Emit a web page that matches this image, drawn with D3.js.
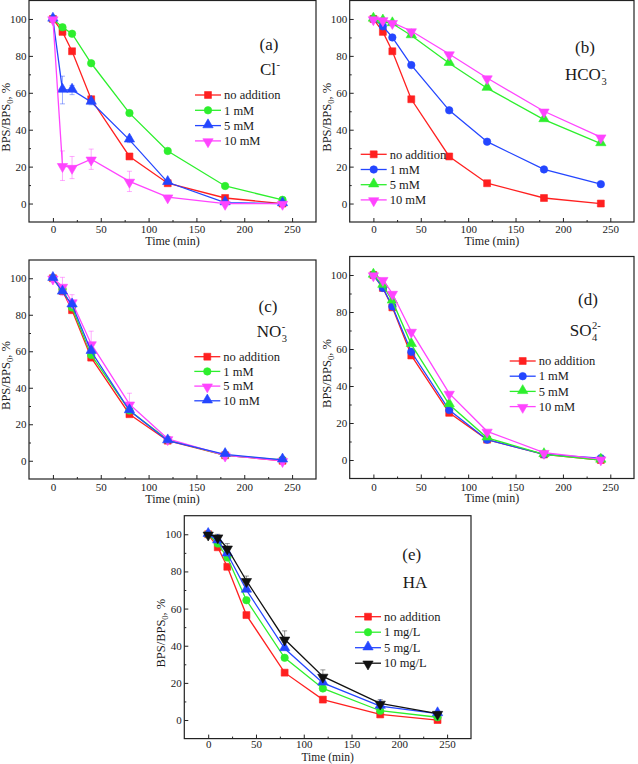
<!DOCTYPE html>
<html>
<head>
<meta charset="utf-8">
<script src="https://cdn.jsdelivr.net/npm/d3@7"></script>
<style>
  html, body { margin: 0; padding: 0; background: #fff; }
  svg { display: block; font-family: "Liberation Serif", serif; }
  svg text { font-family: "Liberation Serif", serif !important; fill: #1a1a1a; }
</style>
</head>
<body>
<svg id="chart" width="638" height="764"></svg>
<script>
// ---------------- DATA ----------------
const times = [0, 10, 20, 40, 80, 120, 180, 240];
const xTicks = [0, 50, 100, 150, 200, 250];
const yTicks = [0, 20, 40, 60, 80, 100];

const noAddition = [100, 93, 82.5, 56.5, 25.5, 11, 3, 0];

// (a) Cl-
const cl1mM  = [100, 95.5, 92, 76, 49, 28.5, 9.5, 2];
const cl5mM  = [100, 61.5, 61.5, 55, 34.5, 11.5, 0.5, 0];
const cl10mM = [100, 20.5, 19.5, 24, 12, 3.5, 0, 0];
const cl5mMErr  = [1, 7.5, 2.5, 1.5, 1.5, 1.5, 0.5, 0.5];
const cl10mMErr = [1, 8, 6, 5.5, 5.5, 1, 0.5, 0.5];

// (b) HCO3-
const hco1mM  = [100, 96, 90, 75, 50.5, 33.5, 18.5, 10.5];
const hco5mM  = [100, 99, 97.5, 91, 76, 62.5, 45.5, 32.5];
const hco10mM = [100, 99.5, 98, 93.5, 81, 68, 50, 36];

// (c) NO3-
const no1mM  = [100, 94, 84, 58, 27.5, 11.5, 3, 0.5];
const no5mM  = [100, 95.5, 87, 64, 31, 12, 3, 0];
const no10mM = [100, 92.5, 85.5, 60, 27.5, 11, 3.5, 0.5];
const no5mMErr = [1, 5, 4, 7, 6, 1.5, 0.5, 1.5];

// (d) SO4 2-
const so1mM  = [100, 93, 83, 58.5, 27, 11, 3, 1];
const so5mM  = [100, 94.5, 86, 62.5, 30, 12, 3, 0];
const so10mM = [100, 97.5, 90, 69.5, 36, 15.5, 4, 0.5];

// (e) HA
const ha1 = [100, 95, 87.5, 64.5, 33.5, 17, 5, 1.5];
const ha5 = [100, 96.5, 89.5, 70, 38.5, 20, 7.5, 3.5];
const ha10 = [100, 98.5, 92.5, 75, 43.5, 23.5, 9, 3.5];
const ha10Err = [1, 1.5, 2.5, 2.5, 4.5, 3.5, 2, 1];

const legendA = ["no addition", "1 mM", "5 mM", "10 mM"];
const legendC = ["no addition", "1 mM", "5 mM", "10 mM"];
const legendE = ["no addition", "1 mg/L", "5 mg/L", "10 mg/L"];

// ---------------- STYLE ----------------
const RED = "#ff2020", GREEN = "#2def2d", BLUE = "#2446ff", MAG = "#ff44ff", BLACK = "#111111";
const FONT = "Liberation Serif, serif";

const panels = [
  { L: 29, R: 316, T: 0.5, B: 222, tickDy: 11, titleDy: 22.5, titleSize: 12,
    tag: "(a)", tagX: 269, tagY: 50, chem: {base: "Cl", sub: null, sup: "-"}, chemX: 260, chemY: 75,
    legX: 195, legY: 95, legDy: 15.3,
    series: [
      {name: legendA[0], v: noAddition, c: RED, s: "square"},
      {name: legendA[1], v: cl1mM, c: GREEN, s: "circle"},
      {name: legendA[2], v: cl5mM, c: BLUE, s: "up", e: cl5mMErr},
      {name: legendA[3], v: cl10mM, c: MAG, s: "down", e: cl10mMErr}
    ]},
  { L: 349.7, R: 634, T: 0.5, B: 222, tickDy: 11, titleDy: 22.5, titleSize: 12,
    tag: "(b)", tagX: 585, tagY: 53, chem: {base: "HCO", sub: "3", sup: "-"}, chemX: 565, chemY: 80,
    legX: 360.7, legY: 154.3, legDy: 15.2,
    series: [
      {name: legendA[0], v: noAddition, c: RED, s: "square"},
      {name: legendA[1], v: hco1mM, c: BLUE, s: "circle"},
      {name: legendA[2], v: hco5mM, c: GREEN, s: "up"},
      {name: legendA[3], v: hco10mM, c: MAG, s: "down"}
    ]},
  { L: 29, R: 316, T: 260, B: 479, tickDy: 12, titleDy: 23.5, titleSize: 12,
    tag: "(c)", tagX: 268, tagY: 311.7, chem: {base: "NO", sub: "3", sup: "-"}, chemX: 256.7, chemY: 337,
    legX: 194.3, legY: 356.7, legDy: 14.7,
    series: [
      {name: legendC[0], v: noAddition, c: RED, s: "square"},
      {name: legendC[1], v: no1mM, c: GREEN, s: "circle"},
      {name: legendC[2], v: no5mM, c: MAG, s: "down", e: no5mMErr},
      {name: legendC[3], v: no10mM, c: BLUE, s: "up"}
    ]},
  { L: 349.7, R: 634, T: 256.5, B: 478.5, tickDy: 12, titleDy: 23.5, titleSize: 12,
    tag: "(d)", tagX: 588, tagY: 305, chem: {base: "SO", sub: "4", sup: "2-"}, chemX: 569.7, chemY: 336,
    legX: 509.7, legY: 361, legDy: 15.2,
    series: [
      {name: legendC[0], v: noAddition, c: RED, s: "square"},
      {name: legendC[1], v: so1mM, c: BLUE, s: "circle"},
      {name: legendC[2], v: so5mM, c: GREEN, s: "up"},
      {name: legendC[3], v: so10mM, c: MAG, s: "down"}
    ]},
  { L: 184.3, R: 471, T: 515.7, B: 738.6, tickDy: 9.8, titleDy: 22.8, titleSize: 11.5,
    tag: "(e)", tagX: 411.7, tagY: 560, chem: {base: "HA", sub: null, sup: null, anchor: "middle"}, chemX: 415, chemY: 588.3,
    legX: 355, legY: 616.7, legDy: 15.5,
    series: [
      {name: legendE[0], v: noAddition, c: RED, s: "square"},
      {name: legendE[1], v: ha1, c: GREEN, s: "circle"},
      {name: legendE[2], v: ha5, c: BLUE, s: "up"},
      {name: legendE[3], v: ha10, c: BLACK, s: "down", e: ha10Err}
    ]}
];

const svg = d3.select("#chart");

function symbolPath(shape) {
  if (shape === "square") return d3.symbol(d3.symbolSquare, 48)();
  if (shape === "circle") return d3.symbol(d3.symbolCircle, 44)();
  return d3.symbol(d3.symbolTriangle, 46)();
}

function drawMarker(g, x, y, shape, color) {
  const p = g.append("path")
    .attr("d", symbolPath(shape))
    .attr("fill", color)
    .attr("stroke", color)
    .attr("stroke-width", 0.6);
  if (shape === "down") p.attr("transform", `translate(${x},${y + 0.8}) rotate(180)`);
  else if (shape === "up") p.attr("transform", `translate(${x},${y - 0.8})`);
  else p.attr("transform", `translate(${x},${y})`);
}

function txt(g) {
  return g.append("text").attr("font-family", FONT).attr("fill", "#1a1a1a");
}

function chemLabel(g, x, y, chem, size) {
  const t = txt(g).attr("x", x).attr("y", y).attr("font-size", size).text(chem.base);
  if (chem.anchor) t.attr("text-anchor", chem.anchor);
  const w = t.node().getComputedTextLength();
  if (chem.sub) {
    txt(g).attr("x", x + w + 0.5).attr("y", y + size * 0.3)
      .attr("font-size", size * 0.62).text(chem.sub);
  }
  if (chem.sup) {
    txt(g).attr("x", x + w + 0.5).attr("y", y - size * 0.42)
      .attr("font-size", size * 0.62).text(chem.sup);
  }
}

panels.forEach(p => {
  const x = d3.scaleLinear().domain([-25, 275]).range([p.L, p.R]);
  const y = d3.scaleLinear().domain([-10, 110]).range([p.B, p.T]);
  const g = svg.append("g");

  // frame
  g.append("rect").attr("x", p.L).attr("y", p.T)
    .attr("width", p.R - p.L).attr("height", p.B - p.T)
    .attr("fill", "none").attr("stroke", "#222").attr("stroke-width", 1.2);

  // bottom axis (ticks inward)
  const xAxis = d3.axisBottom(x).tickValues(xTicks).tickSize(-4).tickPadding(0).tickFormat(d3.format("d"));
  const gx = g.append("g").attr("transform", `translate(0,${p.B})`).call(xAxis)
    .attr("font-family", FONT);
  gx.select(".domain").remove();
  gx.selectAll(".tick line").attr("stroke", "#222").attr("stroke-width", 1);
  gx.selectAll(".tick text").attr("font-size", 11).attr("fill", "#1a1a1a")
    .attr("font-family", FONT).attr("dy", null).attr("y", p.tickDy);
  const xMinor = d3.axisBottom(x).tickValues([25, 75, 125, 175, 225]).tickSize(-2).tickFormat("");
  const gxm = g.append("g").attr("transform", `translate(0,${p.B})`).call(xMinor);
  gxm.select(".domain").remove();
  gxm.selectAll(".tick line").attr("stroke", "#222");

  // left axis
  const yAxis = d3.axisLeft(y).tickValues(yTicks).tickSize(-4).tickPadding(3).tickFormat(d3.format("d"));
  const gy = g.append("g").attr("transform", `translate(${p.L},0)`).call(yAxis)
    .attr("font-family", FONT);
  gy.select(".domain").remove();
  gy.selectAll(".tick line").attr("stroke", "#222");
  gy.selectAll(".tick text").attr("font-size", 11).attr("fill", "#1a1a1a")
    .attr("font-family", FONT).attr("x", -2.5);
  const yMinor = d3.axisLeft(y).tickValues([10, 30, 50, 70, 90]).tickSize(-2).tickFormat("");
  const gym = g.append("g").attr("transform", `translate(${p.L},0)`).call(yMinor);
  gym.select(".domain").remove();
  gym.selectAll(".tick line").attr("stroke", "#222");

  // axis titles
  txt(g).attr("x", (p.L + p.R) / 2).attr("y", p.B + p.titleDy)
    .attr("text-anchor", "middle").attr("font-size", p.titleSize).text("Time (min)");
  const yt = txt(g)
    .attr("transform", `translate(${p.L - 19},${(p.T + p.B) / 2 + 6}) rotate(-90)`)
    .attr("text-anchor", "middle").attr("font-size", 12.5);
  yt.append("tspan").text("BPS/BPS");
  yt.append("tspan").attr("dy", 3).attr("font-size", 8.5).text("0");
  yt.append("tspan").attr("dy", -3).text(", %");

  // error bars
  const line = d3.line().x((d, i) => x(times[i])).y(d => y(d));
  p.series.forEach(s => {
    if (s.e) {
      const eg = g.append("g").attr("stroke", s.c).attr("stroke-opacity", 0.45).attr("stroke-width", 1);
      s.v.forEach((v, i) => {
        const cx = x(times[i]), y1 = y(v + s.e[i]), y2 = y(v - s.e[i]);
        eg.append("line").attr("x1", cx).attr("x2", cx).attr("y1", y1).attr("y2", y2);
        eg.append("line").attr("x1", cx - 2.5).attr("x2", cx + 2.5).attr("y1", y1).attr("y2", y1);
        eg.append("line").attr("x1", cx - 2.5).attr("x2", cx + 2.5).attr("y1", y2).attr("y2", y2);
      });
    }
  });
  // lines and markers
  p.series.forEach(s => {
    g.append("path").datum(s.v).attr("d", line)
      .attr("fill", "none").attr("stroke", s.c).attr("stroke-width", 1.3);
    s.v.forEach((v, i) => drawMarker(g, x(times[i]), y(v), s.s, s.c));
  });

  // legend
  p.series.forEach((s, i) => {
    const ly = p.legY + i * p.legDy;
    g.append("line").attr("x1", p.legX).attr("x2", p.legX + 26)
      .attr("y1", ly).attr("y2", ly).attr("stroke", s.c).attr("stroke-width", 1.3);
    drawMarker(g, p.legX + 13, ly, s.s, s.c);
    txt(g).attr("x", p.legX + 29).attr("y", ly + 4.2)
      .attr("font-size", 12.5).text(s.name);
  });

  // tag and chemical label
  txt(g).attr("x", p.tagX).attr("y", p.tagY).attr("text-anchor", "middle")
    .attr("font-size", 17).text(p.tag);
  chemLabel(g, p.chemX, p.chemY, p.chem, 17);
});
</script>
</body>
</html>
